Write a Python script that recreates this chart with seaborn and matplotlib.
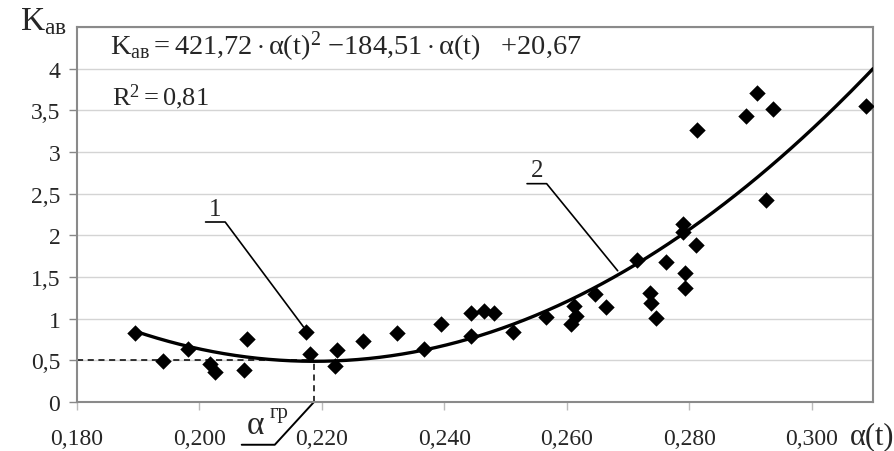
import numpy as np
import pandas as pd
import matplotlib
matplotlib.use("Agg")
import matplotlib.pyplot as plt
import seaborn as sns

# ---- data ----
alpha_t = [0.1895, 0.1941, 0.1982, 0.2018, 0.2025, 0.2077, 0.2073, 0.2174, 0.2180,
           0.2221, 0.2225, 0.2267, 0.2322, 0.2367, 0.2395, 0.2443, 0.2444, 0.2465,
           0.2481, 0.2512, 0.2566, 0.2611, 0.2615, 0.2606, 0.2646, 0.2664, 0.2736,
           0.2737, 0.2746, 0.2793, 0.2910, 0.2893, 0.2937, 0.2813, 0.3089, 0.2925,
           0.2789, 0.2789, 0.2811, 0.2762, 0.2715, 0.2793]
k_av = [0.826, 0.497, 0.637, 0.457, 0.357, 0.757, 0.388, 0.845, 0.577,
        0.429, 0.625, 0.737, 0.826, 0.637, 0.938, 1.07, 0.797, 1.09,
        1.07, 0.845, 1.025, 1.157, 1.037, 0.938, 1.30, 1.138, 1.31,
        1.19, 1.006, 1.367, 3.71, 3.43, 3.52, 3.27, 3.55, 2.42,
        2.14, 2.04, 1.88, 1.68, 1.70, 1.55]
trend_coef = [421.72, -184.51, 20.67]   # printed on the chart
trend_range = [0.1895, 0.3100]
alpha_gr = 0.2187
k_threshold = 0.5

x_ticks = [0.18, 0.20, 0.22, 0.24, 0.26, 0.28, 0.30]
x_ticklabels = ["0,180", "0,200", "0,220", "0,240", "0,260", "0,280", "0,300"]
y_ticks = [0, 0.5, 1, 1.5, 2, 2.5, 3, 3.5, 4]
y_ticklabels = ["0", "0,5", "1", "1,5", "2", "2,5", "3", "3,5", "4"]

points = pd.DataFrame({"alpha": alpha_t, "k": k_av})
xs = np.linspace(trend_range[0], trend_range[1], 200)
trend = pd.DataFrame({"alpha": xs, "k": np.polyval(trend_coef, xs)})

# ---- style ----
sns.set_theme(style="white")
plt.rcParams["font.family"] = ["Liberation Serif", "DejaVu Serif"]
plt.rcParams["mathtext.fontset"] = "custom"
plt.rcParams["mathtext.rm"] = "Liberation Serif"
plt.rcParams["mathtext.it"] = "Liberation Serif:italic"

W, H = 895, 452
fig = plt.figure(figsize=(W / 100, H / 100), dpi=100)
ax = fig.add_axes([77 / W, 1 - 403 / H, (873 - 77) / W, (403 - 28) / H])

ax.set_xlim(0.18, 0.31)
ax.set_ylim(0, 4.5)

for yv in y_ticks[1:] + [4.5]:
    ax.axhline(yv, color="#d4d4d4", lw=1.0, zorder=0)

sns.lineplot(data=trend, x="alpha", y="k", ax=ax, color="black", lw=2.4, zorder=3)
sns.scatterplot(data=points, x="alpha", y="k", ax=ax, marker="D", s=70,
                color="black", edgecolor="black", linewidth=0, zorder=4)

# dashed threshold lines
ax.plot([0.18, alpha_gr], [k_threshold, k_threshold], ls=(0, (4, 3)), color="black", lw=1.1, zorder=2)
ax.plot([alpha_gr, alpha_gr], [0, k_threshold], ls=(0, (4, 3)), color="black", lw=1.1, zorder=2)

ax.set_xticks(x_ticks)
ax.set_xticklabels(x_ticklabels)
ax.set_yticks(y_ticks)
ax.set_yticklabels(y_ticklabels)
ax.tick_params(axis="x", direction="out", length=6, width=1, color="#bbbbbb",
               labelsize=17, pad=13, bottom=True)
ax.tick_params(axis="y", direction="out", length=6, width=1, color="#888888",
               labelsize=17, pad=6, left=True)
ax.set_xlabel("")
ax.set_ylabel("")
for s in ax.spines.values():
    s.set_color("#8a8a8a")
    s.set_linewidth(1.5)

# leader annotations
ax.plot([0.2010, 0.2042, 0.2170], [2.16, 2.16, 0.90], color="black", lw=1.2, clip_on=False)
ax.text(0.2026, 2.19, "1", fontsize=18, ha="center", va="bottom")
ax.plot([0.2535, 0.2567, 0.2683], [2.62, 2.62, 1.575], color="black", lw=1.2, clip_on=False)
ax.text(0.2551, 2.65, "2", fontsize=18, ha="center", va="bottom")
ax.plot([alpha_gr, 0.2123, 0.2069], [0, -0.513, -0.513], color="black", lw=1.4, clip_on=False)
ax.text(0.2091, -0.27, "α", fontsize=24, ha="center", va="center", clip_on=False)
ax.text(0.2130, -0.13, "гр", fontsize=15, ha="center", va="center", clip_on=False)

# equation and labels
fig.text(110 / W, 1 - 47 / H,
         r"$\mathrm{K_{ав}} = 421{,}72\cdot\mathrm{α(t)}^2\ {-}184{,}51\cdot\mathrm{α(t)}\ \ \ {+}20{,}67$",
         fontsize=20.5, ha="left", va="center")
fig.text(112 / W, 1 - 97 / H, r"$\mathrm{R}^2 = 0{,}81$", fontsize=19, ha="left", va="center")
fig.text(20 / W, 1 - 22 / H, r"$\mathrm{K_{ав}}$", fontsize=24, ha="left", va="center")
fig.text(894 / W, 1 - 437 / H, "α(t)", fontsize=22, ha="right", va="center")

fig.savefig("out.png", dpi=100)
